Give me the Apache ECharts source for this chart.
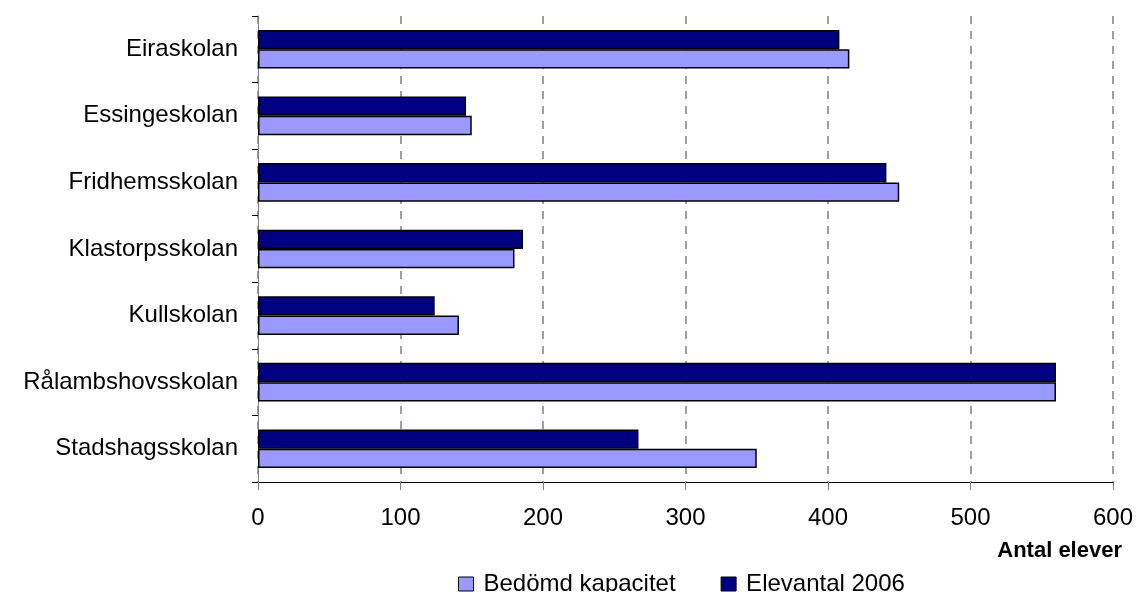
<!DOCTYPE html>
<html>
<head>
<meta charset="utf-8">
<script src="https://cdn.jsdelivr.net/npm/echarts@6/dist/echarts.min.js"></script>
<style>
html,body{margin:0;padding:0;background:#fff;}
#c{width:1136px;height:592px;}
</style>
</head>
<body>
<div id="c"></div>
<script>
const categories = ["Eiraskolan","Essingeskolan","Fridhemsskolan","Klastorpsskolan","Kullskolan","Rålambshovsskolan","Stadshagsskolan"];
const kapacitet = [415, 150, 450, 180, 141, 560, 350];
const elevantal2006 = [408, 146, 441, 186, 124, 560, 267];
const xTicks = [0, 100, 200, 300, 400, 500, 600];

const font = "'Liberation Sans', Arial, sans-serif";
const chart = echarts.init(document.getElementById('c'), null, {renderer: 'canvas'});
chart.setOption({
  animation: false,
  backgroundColor: '#ffffff',
  textStyle: {fontFamily: font},
  title: {
    text: 'Antal elever',
    right: 9, top: 535,
    textStyle: {fontFamily: font, fontSize: 22, fontWeight: 'bold', color: '#000'}
  },
  legend: {
    data: ['Bedömd kapacitet', 'Elevantal 2006'],
    left: 453, top: 567,
    itemWidth: 15, itemHeight: 14, itemGap: 45,
    icon: 'rect',
    textStyle: {fontFamily: font, fontSize: 24, color: '#000', padding: [0, 0, 0, 5]},
    itemStyle: {borderColor: '#000', borderWidth: 1}
  },
  grid: {left: 258, right: 23, top: 16, bottom: 110, containLabel: false},
  xAxis: {
    type: 'value',
    min: xTicks[0], max: xTicks[xTicks.length - 1], interval: 100,
    axisLine: {show: true, lineStyle: {color: '#000', width: 1}},
    axisTick: {show: true, length: 8, lineStyle: {color: '#808080'}},
    axisLabel: {fontFamily: font, fontSize: 24, color: '#000', margin: 24},
    splitLine: {show: true, lineStyle: {color: '#808080', type: [8, 7], width: 1.5}}
  },
  yAxis: {
    type: 'category',
    data: categories,
    inverse: true,
    axisLine: {show: true, lineStyle: {color: '#808080', width: 1}},
    axisTick: {show: true, length: 6, lineStyle: {color: '#000'}},
    axisLabel: {fontFamily: font, fontSize: 24, color: '#000', margin: 20}
  },
  series: [
    {
      name: 'Elevantal 2006', type: 'bar', data: elevantal2006,
      barGap: '0%', barCategoryGap: '42%',
      itemStyle: {color: '#000080', borderColor: '#000', borderWidth: 1.5}
    },
    {
      name: 'Bedömd kapacitet', type: 'bar', data: kapacitet,
      barGap: '0%', barCategoryGap: '42%',
      itemStyle: {color: '#9999ff', borderColor: '#000', borderWidth: 1.5}
    }
  ]
});
</script>
</body>
</html>
